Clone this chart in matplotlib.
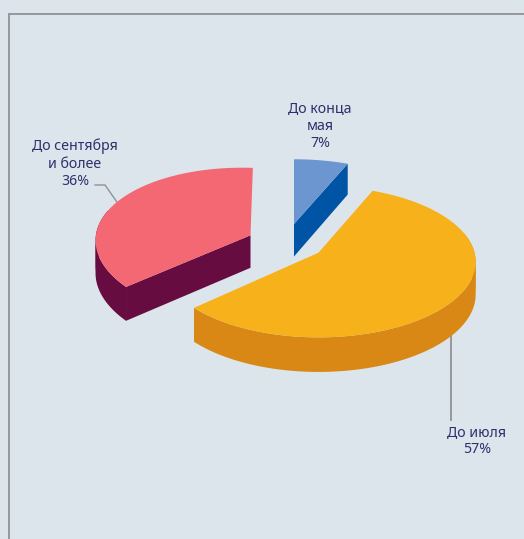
import numpy as np
import matplotlib
matplotlib.use("Agg")
import matplotlib.pyplot as plt

# Data
categories = ["До конца\nмая", "До июля", "До сентября\nи более"]
values = [7, 57, 36]

# Styles
top_colors = ["#6c96cf", "#f7b11a", "#f46874"]
side_colors = ["#0054a6", "#d98815", "#670c41"]
apexes = [(294.0, 224.0), (318.5, 252.7), (250.5, 235.3)]
radii = [(155.0, 72.5), (156.0, 74.5), (153.5, 75.5)]
tilts = [0.0, 0.0, 0.035]
label_pos = [(320, 126), (477, 441), (75, 164)]
BG = "#dde5ec"
LINE = "#8f9296"
TXT = "#2f2f6b"
K, WARP, T, KT = 0.12, 0.058, 32.5, 0.06

fig = plt.figure(figsize=(5.24, 5.39), dpi=100, facecolor=BG)
ax = fig.add_axes([0, 0, 1, 1])
ax.set_xlim(0, 524)
ax.set_ylim(539, 0)
ax.axis("off")


def rim(apex, rad, tilt, th):
    """Perspective projection of a circle arc around the apex."""
    w = th + WARP * np.sin(2 * th)
    u, v = np.cos(w), np.sin(w)
    d = 1 + K * v
    px, py = rad[0] * u / d, rad[1] * v / d
    return apex[0] + px + tilt * py, apex[1] - py + tilt * px, T / (1 + KT * v)


total = sum(values)
start = np.pi / 2
for val, ctop, cside, apex, rad, tilt in zip(values, top_colors, side_colors,
                                             apexes, radii, tilts):
    end = start - 2 * np.pi * val / total
    th = np.linspace(start, end, 360)
    x, y, t = rim(apex, rad, tilt, th)
    # outer rim: only the part facing the viewer, split at the x turning point
    front = np.where(np.sin(th) < 0.25)[0]
    if front.size > 1:
        xf, yf, tf = x[front], y[front], t[front]
        turns = np.where(np.diff(np.sign(np.diff(xf))) != 0)[0] + 1
        for seg in np.split(np.arange(len(xf)), turns):
            seg = np.r_[seg, min(seg[-1] + 1, len(xf) - 1)]
            ax.fill(np.r_[xf[seg], xf[seg][::-1]],
                    np.r_[yf[seg], (yf[seg] + tf[seg])[::-1]],
                    color=cside, lw=0, zorder=2)
    # radial side faces that look towards the viewer
    if np.cos(start) < -1e-6:
        ax.fill([apex[0], x[0], x[0], apex[0]],
                [apex[1], y[0], y[0] + t[0], apex[1] + T],
                color=cside, lw=0, zorder=2)
    if np.cos(end) > 1e-6:
        ax.fill([apex[0], x[-1], x[-1], apex[0]],
                [apex[1], y[-1], y[-1] + t[-1], apex[1] + T],
                color=cside, lw=0, zorder=2)
    # top face
    ax.fill(np.r_[apex[0], x], np.r_[apex[1], y], color=ctop, lw=0, zorder=3)
    start = end

# Frame
ax.plot([9, 9, 524], [539, 13.5, 13.5], color=LINE, lw=1.3, zorder=1,
        solid_joinstyle="miter")

# Leader lines
ax.plot([95, 105, 119], [185, 185, 205], color=LINE, lw=1.0, zorder=1)
ax.plot([451, 451], [330, 420], color=LINE, lw=1.3, zorder=1)

# Labels
for cat, val, (lx, ly) in zip(categories, values, label_pos):
    ax.text(lx, ly, f"{cat}\n{val}%", ha="center", va="center", color=TXT,
            fontsize=10.2, family="Noto Sans", linespacing=1.22, zorder=5)

fig.savefig("out.png", dpi=100, facecolor=BG)
